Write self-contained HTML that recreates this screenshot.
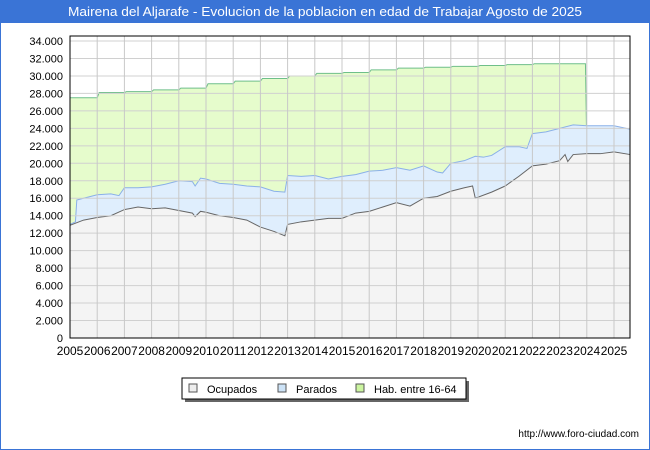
<!DOCTYPE html>
<html><head><meta charset="utf-8"><style>
body{margin:0;width:650px;height:450px;overflow:hidden;font-family:"Liberation Sans",sans-serif;}
#wrap{position:relative;width:648px;height:448px;border:1px solid #3a74d6;background:#fff;}
#title{position:absolute;left:0;top:0;width:648px;height:22px;background:#3a74d6;}
</style></head><body>
<div id="wrap">
<div id="title"></div>
<svg id="svg" width="650" height="450" style="position:absolute;left:-1px;top:-1px">
<text x="68" y="16" font-size="13" fill="#fff" textLength="514" lengthAdjust="spacingAndGlyphs">Mairena del Aljarafe - Evolucion de la poblacion en edad de Trabajar Agosto de 2025</text>
</svg>
</div>
<script>
const yTicks=[0,2000,4000,6000,8000,10000,12000,14000,16000,18000,20000,22000,24000,26000,28000,30000,32000,34000];
const yearLabels=["2005","2006","2007","2008","2009","2010","2011","2012","2013","2014","2015","2016","2017","2018","2019","2020","2021","2022","2023","2024","2025"];
const habYears=[2005,2006,2007,2008,2009,2010,2011,2012,2013,2014,2015,2016,2017,2018,2019,2020,2021,2022,2023];
const habValues=[27500,28100,28200,28400,28600,29100,29400,29700,30000,30300,30400,30700,30900,31000,31100,31200,31300,31400,31400];
const parT=[2005,2005.2,2005.25,2005.5,2006,2006.5,2006.8,2007,2007.5,2008,2008.5,2009,2009.5,2009.6,2009.8,2010,2010.5,2011,2011.5,2012,2012.5,2012.9,2013,2013.5,2014,2014.5,2015,2015.5,2016,2016.5,2017,2017.5,2018,2018.5,2018.7,2019,2019.5,2019.9,2020.2,2020.5,2021,2021.5,2021.8,2022,2022.5,2023,2023.5,2024,2024.5,2025,2025.6];
const parV=[13000,13300,15800,16000,16400,16500,16300,17200,17200,17300,17600,18000,17900,17400,18300,18200,17700,17600,17400,17300,16800,16700,18600,18500,18600,18200,18500,18700,19100,19200,19500,19200,19700,19000,18900,20000,20300,20800,20700,20900,21900,21900,21700,23400,23600,24000,24400,24300,24300,24300,23900];
const ocuT=[2005,2005.5,2006,2006.5,2007,2007.5,2008,2008.5,2009,2009.5,2009.6,2009.8,2010,2010.5,2011,2011.5,2012,2012.5,2012.9,2013,2013.5,2014,2014.5,2015,2015.5,2016,2016.5,2017,2017.5,2018,2018.5,2019,2019.5,2019.8,2019.9,2020.5,2021,2021.5,2022,2022.5,2023,2023.2,2023.3,2023.5,2024,2024.5,2025,2025.6];
const ocuV=[12900,13500,13800,14000,14700,15000,14800,14900,14600,14300,13900,14500,14400,14000,13800,13500,12700,12200,11700,13000,13300,13500,13700,13700,14300,14500,15000,15500,15100,16000,16200,16800,17200,17400,16000,16700,17400,18500,19700,19900,20300,21000,20200,21000,21100,21100,21300,21000];
const habEnd=2023.95;
const X0=70,X1=630,Y0=338,Y1=41,T0=2005,TW=27.2;
const x=t=>X0+(t-T0)*TW;
const y=v=>Y0-(v/34000)*(Y0-Y1);
const NS="http://www.w3.org/2000/svg",svg=document.getElementById('svg');
function mk(tag,a,parent){const e=document.createElementNS(NS,tag);for(const k in a)e.setAttribute(k,a[k]);(parent||svg).appendChild(e);return e;}
const plotBg=mk('rect',{x:X0,y:36,width:X1-X0,height:Y0-36,fill:'#fff'});


let hp=`M${x(2005)},${y(0)}`;
habYears.forEach((yr,i)=>{const end=i<habYears.length-1?habYears[i+1]:habEnd;hp+=` L${x(yr)+(i?2:0)},${y(habValues[i])} L${x(end)},${y(habValues[i])}`;});
hp+=` L${x(habEnd)+1},${y(24300)} L${x(habEnd)},${y(0)} Z`;
const hab=mk('path',{d:hp,fill:'#e6fccc',stroke:'none'});


let hl=`M${x(2005)},${y(habValues[0])}`;
habYears.forEach((yr,i)=>{const end=i<habYears.length-1?habYears[i+1]:habEnd;hl+=` L${x(yr)+(i?2:0)},${y(habValues[i])} L${x(end)},${y(habValues[i])}`;});
hl+=` L${x(habEnd)+1},${y(24300)}`;
const habL=mk('path',{d:hl,fill:'none',stroke:'#6fbf8a','stroke-width':1});


function area(T,V,fill,stroke,name){
  let d=`M${x(T[0])},${y(0)}`;T.forEach((t,i)=>d+=` L${x(t)},${y(V[i])}`);d+=` L${x(T[T.length-1])},${y(0)} Z`;
  const a=mk('path',{d:d,fill:fill});
  
  
  let l='';T.forEach((t,i)=>l+=(i?' L':'M')+x(t)+','+y(V[i]));
  const ln=mk('path',{d:l,fill:'none',stroke:stroke,'stroke-width':1});
  
  
}
area(parT,parV,'#dfeefd','#8ab0e8','parados');
area(ocuT,ocuV,'#f4f4f4','#666','ocupados');
yTicks.forEach(v=>{
  const g=mk('line',{x1:X0,x2:X1,y1:y(v),y2:y(v),stroke:'#d0d0d0','stroke-width':1});
  
  
  const t=mk('text',{x:63,y:y(v)+4,'text-anchor':'end','font-size':11,fill:'#000'});
  t.textContent=v.toLocaleString('de-DE');
  
  
});
yearLabels.forEach((s,i)=>{
  const xx=x(+s);
  const g=mk('line',{x1:xx,x2:xx,y1:36,y2:Y0,stroke:'#c8c8c8','stroke-width':1});
  
  
  const t=mk('text',{x:xx-13.3,y:355,'font-size':12,fill:'#000',textLength:26.6,lengthAdjust:'spacingAndGlyphs'});
  t.textContent=s;
  
  
});
const border=mk('rect',{x:X0,y:36,width:X1-X0,height:Y0-36,fill:'none',stroke:'#000','stroke-width':1});


const lg=mk('g',{});


mk('rect',{x:185,y:381,width:284,height:21,fill:'#666'},lg);
mk('rect',{x:182,y:378,width:284,height:21,fill:'#fff',stroke:'#000','stroke-width':1},lg);
[["Ocupados",'#eeeeee',188],["Parados",'#cde3f7',277],["Hab. entre 16-64",'#ccf5a0',355]].forEach(([n,c,lx])=>{
  const r=mk('rect',{x:lx+1,y:384,width:8,height:8,fill:c,stroke:'#555','stroke-width':1},lg);
  
  
  const t=mk('text',{x:lx+19,y:393,'font-size':11,fill:'#000'},lg);
  t.textContent=n;
  
  
});
const url=mk('text',{x:639,y:437,'text-anchor':'end','font-size':10,fill:'#000'});
url.textContent='http://www.foro-ciudad.com';


</script>
</body></html>
